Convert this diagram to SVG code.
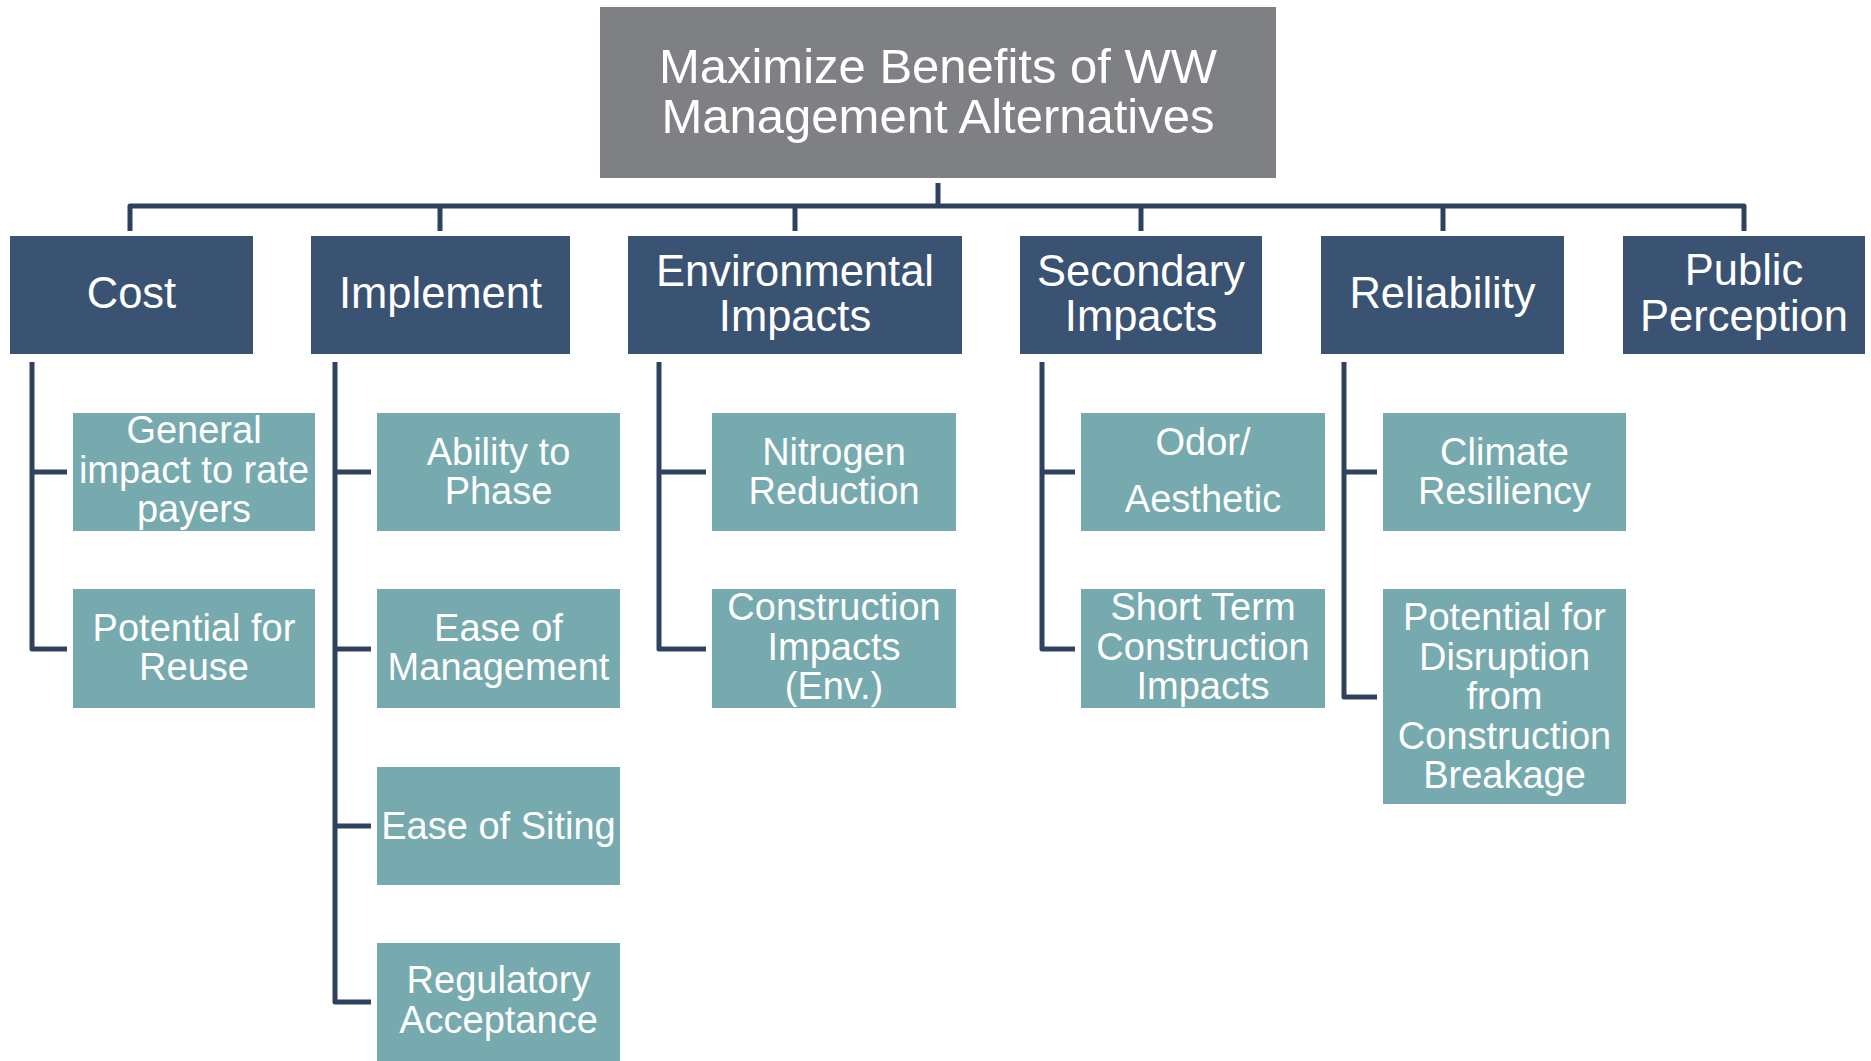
<svg xmlns="http://www.w3.org/2000/svg" width="1871" height="1061" viewBox="0 0 1871 1061">
<style>
text{font-family:"Liberation Sans",Arial,sans-serif;fill:#fff;text-anchor:middle}
.root rect{fill:#7f8084}
.cat rect{fill:#3b5373}
.sub rect{fill:#76aaae}
.root text{font-size:49px}
.cat text{font-size:43.5px}
.sub text{font-size:38px}
#connectors path{fill:none;stroke:#2e4260;stroke-width:5;stroke-linejoin:round}
</style>
<rect width="1871" height="1061" fill="#fff"/>
<g id="connectors">
<path d="M938,183 V206"/>
<path d="M130,231 V206 H1744 V231"/>
<path d="M440,206 V231 M795,206 V231 M1141,206 V231 M1443,206 V231"/>
<path d="M32,362 V649 H67 M32,472 H67"/>
<path d="M335,362 V1002 H371 M335,472 H371 M335,649 H371 M335,826 H371"/>
<path d="M659,362 V649 H706 M659,472 H706"/>
<path d="M1042,362 V649 H1075 M1042,472 H1075"/>
<path d="M1344,362 V697 H1377 M1344,472 H1377"/>
</g>
<g id="root" class="root"><rect x="600" y="7" width="676" height="171"/><text x="938" y="83">Maximize Benefits of WW</text><text x="938" y="133">Management Alternatives</text></g>
<g id="cost" class="cat"><rect x="10" y="236" width="243" height="118"/><text x="131.5" y="308">Cost</text></g>
<g id="implement" class="cat"><rect x="311" y="236" width="259" height="118"/><text x="440.5" y="308">Implement</text></g>
<g id="environmental" class="cat"><rect x="628" y="236" width="334" height="118"/><text x="795" y="286">Environmental</text><text x="795" y="331">Impacts</text></g>
<g id="secondary" class="cat"><rect x="1020" y="236" width="242" height="118"/><text x="1141" y="286">Secondary</text><text x="1141" y="331">Impacts</text></g>
<g id="reliability" class="cat"><rect x="1321" y="236" width="243" height="118"/><text x="1442.5" y="308">Reliability</text></g>
<g id="public" class="cat"><rect x="1623" y="236" width="242" height="118"/><text x="1744" y="285">Public</text><text x="1744" y="331">Perception</text></g>
<g id="cost-general" class="sub"><rect x="73" y="413" width="242" height="118"/><text x="194" y="443">General</text><text x="194" y="483">impact to rate</text><text x="194" y="522">payers</text></g>
<g id="cost-reuse" class="sub"><rect x="73" y="589" width="242" height="119"/><text x="194" y="641">Potential for</text><text x="194" y="680">Reuse</text></g>
<g id="impl-phase" class="sub"><rect x="377" y="413" width="243" height="118"/><text x="498.5" y="465">Ability to</text><text x="498.5" y="504">Phase</text></g>
<g id="impl-mgmt" class="sub"><rect x="377" y="589" width="243" height="119"/><text x="498.5" y="641">Ease of</text><text x="498.5" y="680">Management</text></g>
<g id="impl-siting" class="sub"><rect x="377" y="767" width="243" height="118"/><text x="498.5" y="839">Ease of Siting</text></g>
<g id="impl-reg" class="sub"><rect x="377" y="943" width="243" height="118"/><text x="498.5" y="993">Regulatory</text><text x="498.5" y="1033">Acceptance</text></g>
<g id="env-nitrogen" class="sub"><rect x="712" y="413" width="244" height="118"/><text x="834" y="465">Nitrogen</text><text x="834" y="504">Reduction</text></g>
<g id="env-construction" class="sub"><rect x="712" y="589" width="244" height="119"/><text x="834" y="620">Construction</text><text x="834" y="660">Impacts</text><text x="834" y="699">(Env.)</text></g>
<g id="sec-odor" class="sub"><rect x="1081" y="413" width="244" height="118"/><text x="1203" y="455">Odor/</text><text x="1203" y="512">Aesthetic</text></g>
<g id="sec-short" class="sub"><rect x="1081" y="589" width="244" height="119"/><text x="1203" y="620">Short Term</text><text x="1203" y="660">Construction</text><text x="1203" y="699">Impacts</text></g>
<g id="rel-climate" class="sub"><rect x="1383" y="413" width="243" height="118"/><text x="1504.5" y="465">Climate</text><text x="1504.5" y="504">Resiliency</text></g>
<g id="rel-disruption" class="sub"><rect x="1383" y="589" width="243" height="215"/><text x="1504.5" y="630">Potential for</text><text x="1504.5" y="670">Disruption</text><text x="1504.5" y="709">from</text><text x="1504.5" y="749">Construction</text><text x="1504.5" y="788">Breakage</text></g>
</svg>
